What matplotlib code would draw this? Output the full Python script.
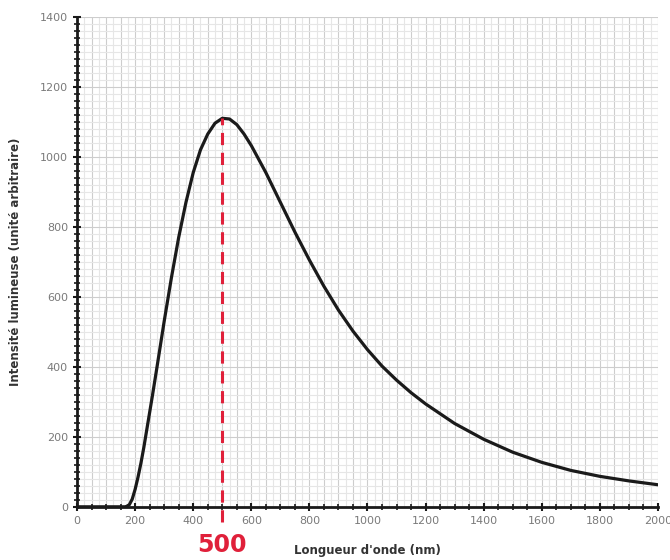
import numpy as np
import matplotlib.pyplot as plt
from matplotlib.ticker import MultipleLocator

# Spectre d'emission
longueur = [0, 100, 165, 170, 180, 190, 200, 210, 220, 230, 240, 250, 260, 275,
            300, 325, 350, 375, 400, 425, 450, 475, 500, 525, 550, 575, 600,
            650, 700, 750, 800, 850, 900, 950, 1000, 1050, 1100, 1150, 1200,
            1300, 1400, 1500, 1600, 1700, 1800, 1900, 2000]
intensite = [0, 0, 0, 1, 6, 22, 50, 85, 125, 170, 220, 270, 320, 398,
             530, 655, 770, 870, 955, 1020, 1065, 1096, 1110, 1108, 1092, 1065, 1032,
             955, 870, 785, 705, 630, 562, 502, 449, 402, 362, 326, 294,
             238, 193, 156, 127, 104, 87, 74, 63]
pic = 500
pic_val = 1110

fig = plt.figure(figsize=(6.7, 5.6), dpi=100)
ax = fig.add_axes([0.115, 0.095, 0.867, 0.875])

ax.plot(longueur, intensite, color='#1a1a1a', lw=2.3, zorder=3,
        solid_joinstyle='round', solid_capstyle='round')
ax.plot([pic, pic], [-42, pic_val], color='#e0203a', lw=2.2, ls=(0, (4, 2.5)),
        clip_on=False, zorder=4)

ax.set_xlim(0, 2000)
ax.set_ylim(0, 1400)
ax.xaxis.set_major_locator(MultipleLocator(200))
ax.xaxis.set_minor_locator(MultipleLocator(50))
ax.yaxis.set_major_locator(MultipleLocator(200))
ax.yaxis.set_minor_locator(MultipleLocator(20))

# grille
for v in np.arange(25, 2001, 25):
    c = '#cdcdcd' if v % 50 == 0 else '#e6e6e6'
    ax.axvline(v, color=c, lw=0.8, zorder=1)
for v in np.arange(20, 1401, 20):
    c = '#cdcdcd' if v % 200 == 0 else '#e6e6e6'
    ax.axhline(v, color=c, lw=0.8, zorder=1)

for s in ['top', 'right']:
    ax.spines[s].set_visible(False)
for s in ['left', 'bottom']:
    ax.spines[s].set_linewidth(2)
    ax.spines[s].set_color('#1a1a1a')

ax.tick_params(which='major', direction='inout', length=6, width=1.5,
               colors='#1a1a1a', labelcolor='#7a7a7a', labelsize=8)
ax.tick_params(which='minor', direction='inout', length=4, width=1.2, colors='#1a1a1a')

ax.set_xlabel("Longueur d'onde (nm)", fontsize=8.5, fontweight='bold', color='#333333')
ax.xaxis.set_label_coords(0.5, -0.075)
ax.set_ylabel("Intensité lumineuse (unité arbitraire)", fontsize=8.5,
              fontweight='bold', color='#333333')
ax.yaxis.set_label_coords(-0.095, 0.5)

ax.text(pic, -108, "500", color='#e0203a', fontsize=17, fontweight='bold',
        ha='center', va='center')

fig.savefig('out.png', dpi=100)
